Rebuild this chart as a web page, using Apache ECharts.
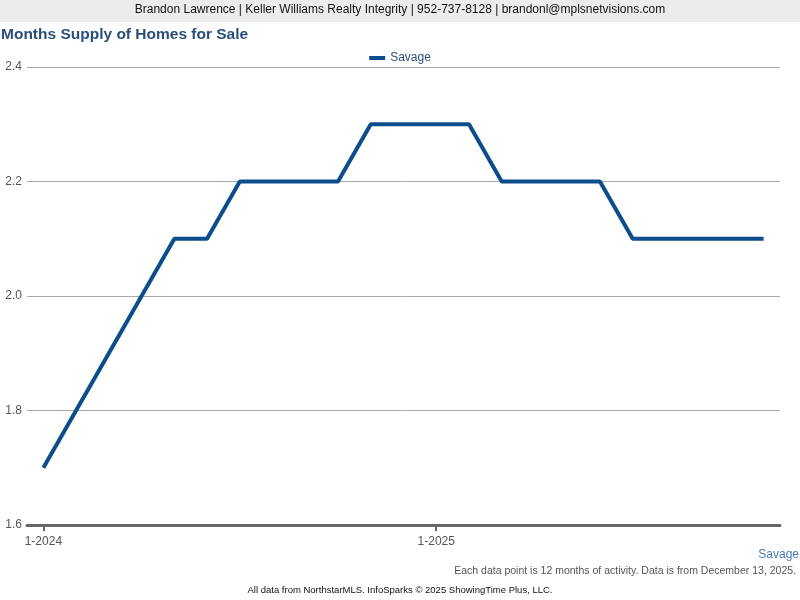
<!DOCTYPE html>
<html><head><meta charset="utf-8">
<script src="https://cdn.jsdelivr.net/npm/echarts@6/dist/echarts.min.js"></script>
<style>html,body{margin:0;padding:0;background:#fff}#c{width:800px;height:600px}</style>
</head><body><div id="c"></div>
<script>
const categories = ['1-2024','2-2024','3-2024','4-2024','5-2024','6-2024','7-2024','8-2024','9-2024','10-2024','11-2024','12-2024',
  '1-2025','2-2025','3-2025','4-2025','5-2025','6-2025','7-2025','8-2025','9-2025','10-2025','11-2025'];
const savage = [1.7,1.8,1.9,2.0,2.1,2.1,2.2,2.2,2.2,2.2,2.3,2.3,2.3,2.3,2.2,2.2,2.2,2.2,2.1,2.1,2.1,2.1,2.1];
const labeledCategories = ['1-2024','1-2025'];

const chart = echarts.init(document.getElementById('c'));
const font = 'Liberation Sans, Arial, sans-serif';
chart.setOption({
  animation: false,
  textStyle: {fontFamily: font},
  graphic: [
    {type:'rect', left:0, top:0, shape:{width:800, height:22}, style:{fill:'#ececec'}, z:-1},
    {type:'text', left:'center', top:4, style:{text:'Brandon Lawrence | Keller Williams Realty Integrity | 952-737-8128 | brandonl@mplsnetvisions.com', font:'12px '+font, fill:'#111'}},
    {type:'text', left:1, top:27, style:{text:'Months Supply of Homes for Sale', font:'bold 15.5px '+font, fill:'#2b4f7c'}},
    {type:'text', right:1, top:549, style:{text:'Savage', font:'12px '+font, fill:'#4a7ab5'}},
    {type:'text', right:4, top:566, style:{text:'Each data point is 12 months of activity. Data is from December 13, 2025.', font:'10.5px '+font, fill:'#555'}},
    {type:'text', left:'center', top:585, style:{text:'All data from NorthstarMLS. InfoSparks © 2025 ShowingTime Plus, LLC.', font:'9.5px '+font, fill:'#111'}}
  ],
  legend: {
    top: 47, left: 'center', itemWidth: 16, itemHeight: 4, itemGap: 4,
    icon: 'rect',
    textStyle: {fontSize: 12, color: '#2b4f7c', fontFamily: font},
    data: ['Savage']
  },
  grid: {left: 27, right: 20, top: 67, bottom: 75},
  xAxis: {
    type: 'category', data: categories, boundaryGap: true,
    axisLine: {lineStyle: {color: '#666', width: 3}},
    axisTick: {show: true, alignWithLabel: true, length: 6, lineStyle:{color:'#666', width:2},
      interval: (i, v) => labeledCategories.includes(v)},
    axisLabel: {interval: (i, v) => labeledCategories.includes(v), color: '#555', fontSize: 12, margin: 11},
    splitLine: {show: false}
  },
  yAxis: {
    type: 'value', min: 1.6, max: 2.4, interval: 0.2,
    axisLine: {show: false}, axisTick: {show: false},
    axisLabel: {color: '#555', fontSize: 12, margin: 5, padding: [6,0,0,0], formatter: v => v.toFixed(1)},
    splitLine: {lineStyle: {color: '#aaa', width: 1}}
  },
  series: [{
    name: 'Savage', type: 'line', data: savage, symbol: 'none',
    lineStyle: {color: '#0c4e8c', width: 4}, itemStyle: {color: '#0c4e8c'}
  }]
});
</script></body></html>
